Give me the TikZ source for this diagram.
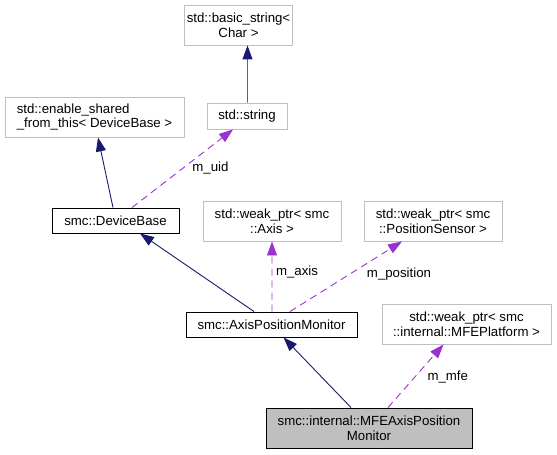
\documentclass[tikz,border=0pt]{standalone}
\usepackage{fontspec}
\setmainfont{Liberation Sans}
\usetikzlibrary{arrows.meta}
\definecolor{navyedge}{HTML}{191970}
\definecolor{usedge}{HTML}{9A32CD}
\definecolor{boxgrey}{HTML}{BFBFBF}
\tikzset{
  cls/.style={draw=boxgrey, line width=0.9bp, rectangle, inner sep=0pt, align=center,
    font=\fontsize{13.3}{15}\selectfont},
  clsdoc/.style={cls, draw=black},
  clsmain/.style={cls, draw=black, fill=boxgrey},
  inh/.style={draw=navyedge, line width=0.9bp, -{Triangle[length=14bp,width=10bp]}},
  inhlight/.style={draw=navyedge!70, line width=0.9bp, -{Triangle[length=14bp,width=10bp,color=navyedge]}},
  usage/.style={draw=usedge, line width=0.9bp, dash pattern=on 7bp off 5bp,
    -{Triangle[length=14bp,width=10bp]}},
  elabel/.style={font=\fontsize{13.3}{15}\selectfont, inner sep=0pt}
}
\begin{document}
\begin{tikzpicture}[x=1bp,y=-1bp]
\useasboundingbox (0,0) rectangle (557,455);
\node[cls, minimum width=108bp, minimum height=40bp] (bs) at (238.5,25) {std::basic\_string<\\Char >};
\node[cls, minimum width=80bp, minimum height=26bp] (str) at (247,116) {std::string};
\node[cls, minimum width=179bp, minimum height=40bp, align=left] (esft) at (94.5,117) {std::enable\_shared\\\_from\_this< DeviceBase >};
\node[clsdoc, minimum width=127bp, minimum height=25bp] (db) at (115.5,220.5) {smc::DeviceBase};
\node[cls, minimum width=138bp, minimum height=40bp] (wa) at (272,221) {std::weak\_ptr< smc\\::Axis >};
\node[cls, minimum width=138bp, minimum height=40bp] (wps) at (433,221) {std::weak\_ptr< smc\\::PositionSensor >};
\node[clsdoc, minimum width=171bp, minimum height=25bp] (apm) at (271.5,324.5) {smc::AxisPositionMonitor};
\node[cls, minimum width=169bp, minimum height=40bp] (mfep) at (466.5,324) {std::weak\_ptr< smc\\::internal::MFEPlatform >};
\node[clsmain, minimum width=206bp, minimum height=40bp] (main) at (369,428) {smc::internal::MFEAxisPosition\\Monitor};

\draw[inhlight] ([xshift=0.5bp]str.north) -- ([xshift=9bp]bs.south);
\draw[inh] ([xshift=-2.5bp]db.north) -- ([xshift=3.5bp]esft.south);
\draw[usage] ([xshift=16.5bp]db.north) -- ([xshift=-14bp]str.south) node[elabel, pos=0.5, xshift=28bp, yshift=0bp] (luid) {m\_uid};
\draw[inh] ([xshift=-17.5bp]apm.north) -- ([xshift=24.5bp]db.south);
\draw[usage] ([xshift=0.5bp]apm.north) -- (wa.south) node[elabel, pos=0.56, xshift=25bp] (laxis) {m\_axis};
\draw[usage] ([xshift=18.5bp]apm.north) -- ([xshift=-31bp]wps.south) node[elabel, pos=0.5, xshift=53bp, yshift=2bp] (lpos) {m\_position};
\draw[inh] ([xshift=-18bp]main.north) -- ([xshift=12bp]apm.south);
\draw[usage] ([xshift=19bp]main.north) -- ([xshift=-23bp]mfep.south) node[elabel, pos=0.5, xshift=32bp, yshift=-1bp] (lmfe) {m\_mfe};
\end{tikzpicture}
\end{document}
